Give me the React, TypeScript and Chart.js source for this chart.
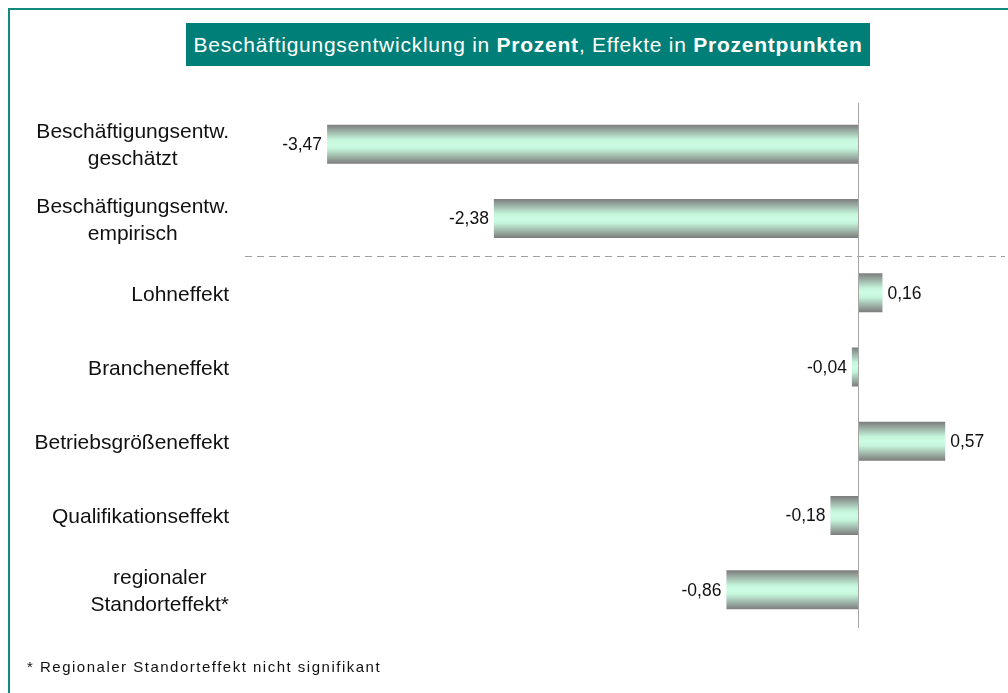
import React, { useEffect, useRef } from "react";
import { Chart, registerables } from "chart.js";

Chart.register(...registerables);

const categories: (string | string[])[] = [
  ["Beschäftigungsentw.", "geschätzt"],
  ["Beschäftigungsentw.", "empirisch"],
  "Lohneffekt",
  "Brancheneffekt",
  "Betriebsgrößeneffekt",
  "Qualifikationseffekt",
  ["regionaler", "Standorteffekt*"],
];
const values = [-3.47, -2.38, 0.16, -0.04, 0.57, -0.18, -0.86];
const xMin = -4;
const xMax = 1;

const FONT = '"Liberation Sans", Arial, Helvetica, sans-serif';
const TEAL = "#007f78";
const FRAME = "#138a80";
const BAR_PCT = 0.525;

const fmt = (v: number) => v.toFixed(2).replace(".", ",");

const overlayPlugin = {
  id: "overlay",
  afterDatasetsDraw(chart: any) {
    const { ctx, scales } = chart;
    const xs = scales.x;
    const ys = scales.y;
    const meta = chart.getDatasetMeta(0);
    ctx.save();
    // dashed separator between the estimated/empirical rows and the effects
    const sepY = Math.round((ys.getPixelForValue(1) + ys.getPixelForValue(2)) / 2) + 0.5;
    ctx.strokeStyle = "#a0a0a0";
    ctx.lineWidth = 1;
    ctx.setLineDash([7, 5]);
    ctx.beginPath();
    ctx.moveTo(xs.left - 1, sepY);
    ctx.lineTo(xs.right - 6, sepY);
    ctx.stroke();
    ctx.setLineDash([]);
    // zero line
    const zx = Math.round(xs.getPixelForValue(0)) + 0.5;
    ctx.strokeStyle = "#a6a6a6";
    ctx.beginPath();
    ctx.moveTo(zx, ys.top - 4);
    ctx.lineTo(zx, ys.bottom + 1);
    ctx.stroke();
    // value labels
    ctx.fillStyle = "#111";
    ctx.font = `17.5px ${FONT}`;
    ctx.textBaseline = "middle";
    meta.data.forEach((bar: any, i: number) => {
      const v = values[i];
      if (v >= 0) {
        ctx.textAlign = "left";
        ctx.fillText(fmt(v), bar.x + 5, bar.y + 1);
      } else {
        ctx.textAlign = "right";
        ctx.fillText(fmt(v), bar.x - 5, bar.y + 1);
      }
    });
    // category labels: block right-aligned, lines centered inside the block
    ctx.font = `21px ${FONT}`;
    ctx.textAlign = "center";
    const rightEdge = 229;
    const lineH = 27;
    categories.forEach((c, i) => {
      const lines = Array.isArray(c) ? c : [c];
      const w = Math.max(...lines.map((l) => ctx.measureText(l).width));
      const cx = rightEdge - w / 2;
      const cy = ys.getPixelForValue(i) + 2;
      lines.forEach((l, j) => {
        const y = cy + (j - (lines.length - 1) / 2) * lineH;
        ctx.fillText(l, cx, y);
      });
    });
    ctx.restore();
  },
};

export default function App() {
  const ref = useRef<HTMLCanvasElement>(null);
  useEffect(() => {
    if (!ref.current) return;
    const chart = new Chart(ref.current, {
      type: "bar",
      data: {
        labels: categories,
        datasets: [
          {
            data: values,
            barPercentage: BAR_PCT,
            categoryPercentage: 1,
            borderWidth: 0,
            backgroundColor: (ctx: any) => {
              const ch = ctx.chart;
              const ys = ch.scales && ch.scales.y;
              if (!ys || ctx.dataIndex === undefined) return "#c8f8dc";
              const c = ys.getPixelForValue(ctx.dataIndex);
              const band = (ys.bottom - ys.top) / categories.length;
              const half = (band * BAR_PCT) / 2;
              if (!isFinite(c) || !isFinite(half) || half <= 0) return "#c8f8dc";
              const g = ch.ctx.createLinearGradient(0, c - half, 0, c + half);
              g.addColorStop(0, "#7c7c7c");
              g.addColorStop(0.38, "#c4f4da");
              g.addColorStop(0.5, "#ccfde3");
              g.addColorStop(0.62, "#c4f4da");
              g.addColorStop(1, "#7c7c7c");
              return g;
            },
          },
        ],
      },
      options: {
        indexAxis: "y",
        animation: false,
        responsive: false,
        maintainAspectRatio: false,
        layout: { padding: { left: 246, right: 29, top: 107, bottom: 66 } },
        plugins: {
          legend: { display: false },
          tooltip: { enabled: false },
          title: { display: false },
        },
        scales: {
          x: { type: "linear", min: xMin, max: xMax, display: false },
          y: { type: "category", display: false, offset: true },
        },
      },
      plugins: [overlayPlugin],
    } as any);
    return () => chart.destroy();
  }, []);

  return (
    <div style={{ position: "fixed", inset: 0, overflow: "hidden", background: "#fff", fontFamily: FONT }}>
      <div
        style={{
          position: "absolute",
          left: 8,
          top: 8,
          width: 1200,
          height: 900,
          borderTop: `2px solid ${FRAME}`,
          borderLeft: `2px solid ${FRAME}`,
        }}
      />
      <canvas
        ref={ref}
        width={1040}
        height={693}
        style={{ position: "absolute", left: 0, top: 0, width: 1040, height: 693 }}
      />
      <div
        style={{
          position: "absolute",
          left: 186,
          top: 23,
          width: 684,
          height: 43,
          lineHeight: "43px",
          background: TEAL,
          color: "#fff",
          fontSize: 21,
          letterSpacing: "0.75px",
          textAlign: "center",
          whiteSpace: "nowrap",
        }}
      >
        Beschäftigungsentwicklung in <b>Prozent</b>, Effekte in <b>Prozentpunkten</b>
      </div>
      <div
        style={{
          position: "absolute",
          left: 27,
          top: 658,
          fontSize: 15,
          lineHeight: "18px",
          letterSpacing: "1.5px",
          color: "#111",
          whiteSpace: "nowrap",
        }}
      >
        * Regionaler Standorteffekt nicht signifikant
      </div>
    </div>
  );
}
